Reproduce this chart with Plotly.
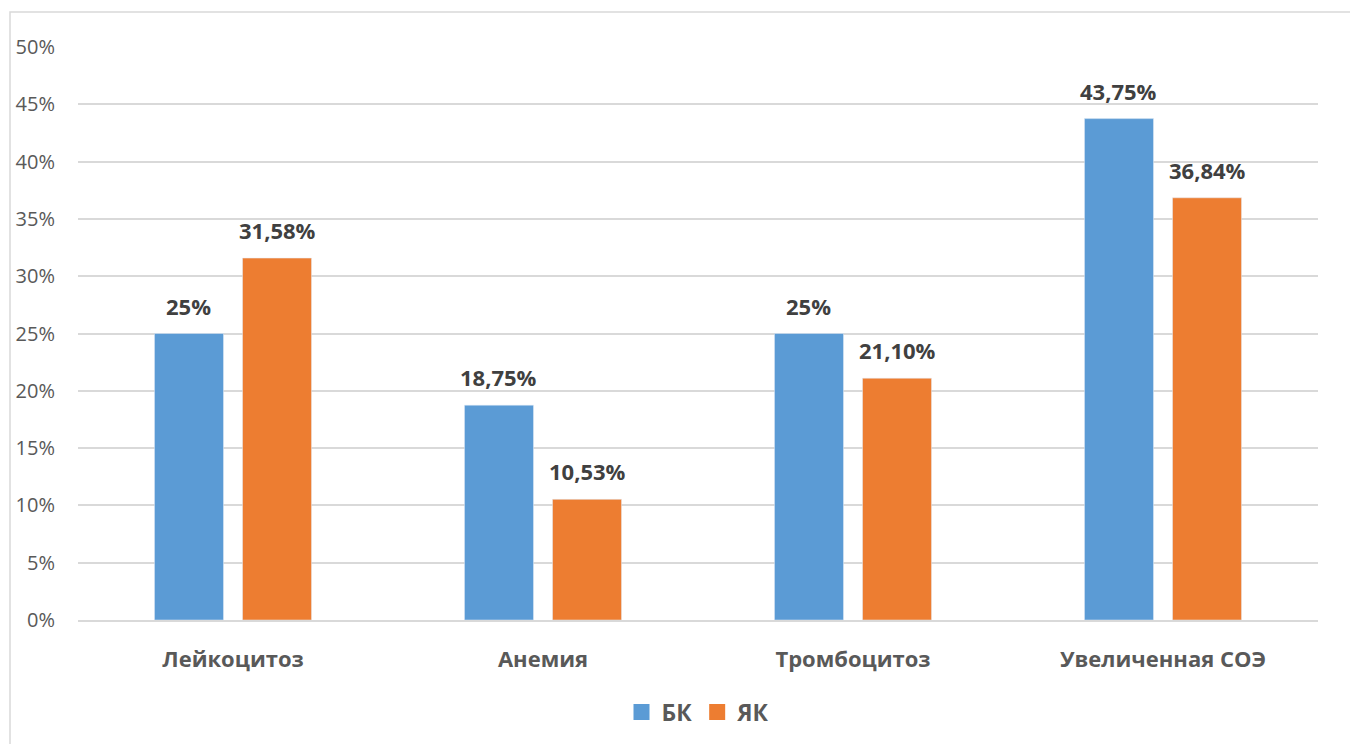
import plotly.graph_objects as go

categories = ["Лейкоцитоз", "Анемия", "Тромбоцитоз", "Увеличенная СОЭ"]
bk_values = [25.0, 18.75, 25.0, 43.75]
yak_values = [31.58, 10.53, 21.10, 36.84]
bk_labels = ["25%", "18,75%", "25%", "43,75%"]
yak_labels = ["31,58%", "10,53%", "21,10%", "36,84%"]
y_ticks = [0, 5, 10, 15, 20, 25, 30, 35, 40, 45, 50]
y_tick_labels = [f"{v}%" for v in y_ticks]

FONT = "Open Sans"
BLUE = "#5B9BD5"
ORANGE = "#ED7D31"

W, H = 1350, 744
L, R, T, B = 78, 32, 47, 123
pw, ph = W - L - R, H - T - B
BARGAP, GROUPGAP = 0.432, 0.216


def px_to_paper_x(px):
    return (px - L) / pw


def px_to_paper_y(py):
    return (H - B - py) / ph


fig = go.Figure()
series = [("БК", bk_values, bk_labels, BLUE), ("ЯК", yak_values, yak_labels, ORANGE)]
for name, vals, _, color in series:
    fig.add_trace(go.Bar(name=name, x=categories, y=vals, marker_color=color,
                         showlegend=False, hoverinfo="x+y"))

# legend swatches as square markers
for name, _, _, color in series:
    fig.add_trace(go.Scatter(name=name, x=[None], y=[None], mode="markers",
                             marker=dict(symbol="square", size=18, color=color),
                             showlegend=True))

# value labels above each bar, offset to the bar's slot within the group
cat_px = pw / len(categories)
slot_px = cat_px * (1 - BARGAP) / 2
for i, (name, vals, labels, color) in enumerate(series):
    shift = (i - 0.5) * slot_px
    for cat, v, lab in zip(categories, vals, labels):
        fig.add_annotation(x=cat, y=v, text=f"<b>{lab}</b>", showarrow=False,
                           xshift=shift, yshift=11, yanchor="bottom",
                           font=dict(family=FONT, size=22, color="#404040"))

# outer chart frame
fig.add_shape(type="rect", xref="paper", yref="paper",
              x0=px_to_paper_x(10), x1=px_to_paper_x(1400),
              y0=px_to_paper_y(800), y1=px_to_paper_y(12),
              line=dict(color="#D9D9D9", width=1.5), fillcolor="rgba(0,0,0,0)",
              layer="below")

fig.update_layout(
    width=W, height=H,
    margin=dict(l=L, r=R, t=T, b=B),
    paper_bgcolor="white", plot_bgcolor="white",
    barmode="group", bargap=BARGAP, bargroupgap=GROUPGAP,
    font=dict(family=FONT, color="#595959"),
    legend=dict(orientation="h", x=0.5, xanchor="center", y=px_to_paper_y(712), yanchor="middle",
                font=dict(family=FONT, size=23, color="#595959", weight="bold"),
                itemwidth=30, traceorder="normal"),
    yaxis=dict(range=[0, 50], tickvals=y_ticks, ticktext=y_tick_labels,
               showgrid=True, gridcolor="#D9D9D9", gridwidth=1.5,
               zeroline=False, showline=False, ticks="",
               tickfont=dict(family=FONT, size=20, color="#595959"),
               ticklabelstandoff=22),
    xaxis=dict(showline=True, linecolor="#D9D9D9", linewidth=1.5, ticks="",
               tickfont=dict(family=FONT, size=22, color="#595959", weight="bold"),
               ticklabelstandoff=19),
)

fig.write_html("out.html")
